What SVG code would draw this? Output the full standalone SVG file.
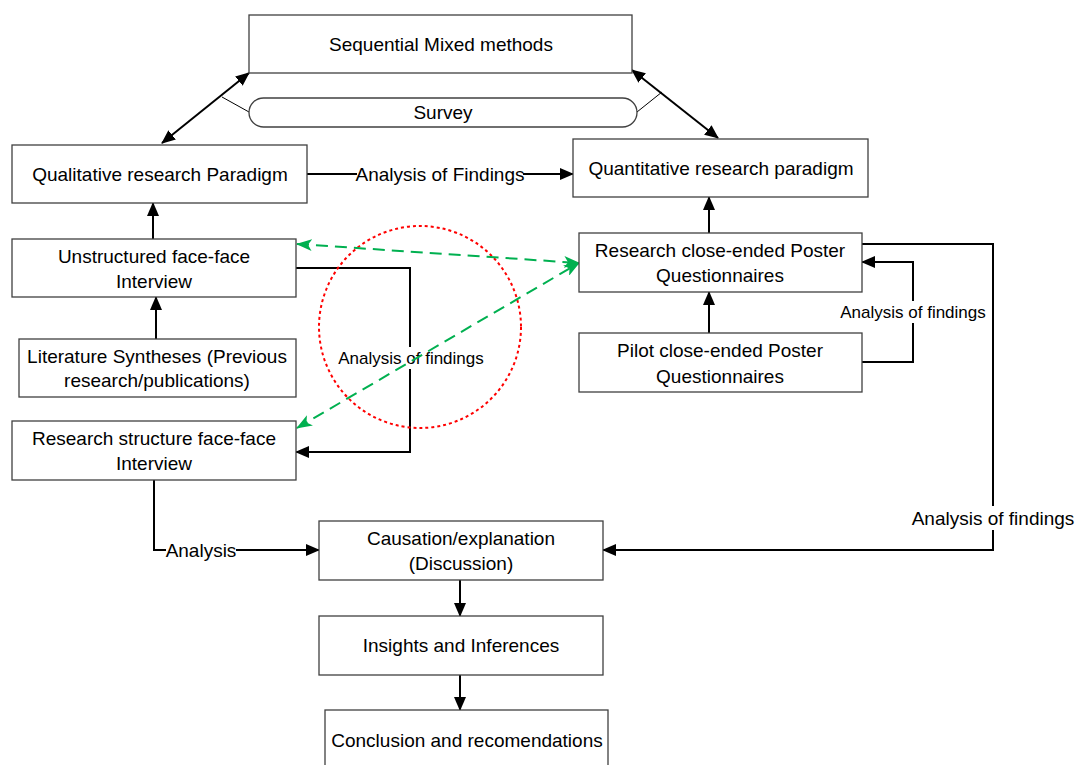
<svg xmlns="http://www.w3.org/2000/svg" width="1076" height="765" viewBox="0 0 1076 765">
<style>
.box{fill:#fff;stroke:#404040;stroke-width:1.3}
.t{font-family:"Liberation Sans",Arial,sans-serif;font-size:19px;fill:#000;text-anchor:middle;dominant-baseline:central}
.s{font-size:17px}
.c{fill:none;stroke:#000;stroke-width:2}
.thin{fill:none;stroke:#000;stroke-width:1}
.g{fill:none;stroke:#00b050;stroke-width:2;stroke-dasharray:12,7}
.lbl{fill:#fff}
</style>
<defs>
<marker id="ah" markerUnits="userSpaceOnUse" markerWidth="14" markerHeight="12" refX="13" refY="6" orient="auto-start-reverse">
<path d="M0,0 L14,6 L0,12 z" fill="#000"/>
</marker>
<marker id="gh" markerUnits="userSpaceOnUse" markerWidth="16" markerHeight="12" refX="15" refY="6" orient="auto-start-reverse">
<path d="M0,0 L16,6 L0,12 L4,6 z" fill="#00b050"/>
</marker>
</defs>
<rect width="1076" height="765" fill="#fff"/>

<g id="connectors">
<line class="c" x1="162" y1="143" x2="249" y2="73" marker-start="url(#ah)" marker-end="url(#ah)"/>
<line class="c" x1="632" y1="70" x2="718" y2="138" marker-start="url(#ah)" marker-end="url(#ah)"/>
<line class="thin" x1="222" y1="97" x2="249" y2="112"/>
<line class="thin" x1="637" y1="112" x2="662" y2="92"/>
<line class="c" x1="307" y1="174" x2="573" y2="174" marker-end="url(#ah)"/>
<rect class="lbl" x="357" y="162" width="166" height="24"/>
<text class="t" x="440" y="174">Analysis of Findings</text>
<line class="c" x1="153" y1="239" x2="153" y2="203" marker-end="url(#ah)"/>
<line class="c" x1="156" y1="339" x2="156" y2="297" marker-end="url(#ah)"/>
<polyline class="c" points="296,268 410,268 410,452 296,452" marker-end="url(#ah)"/>
<line class="c" x1="709" y1="233" x2="709" y2="197" marker-end="url(#ah)"/>
<line class="c" x1="709" y1="333" x2="709" y2="292" marker-end="url(#ah)"/>
<polyline class="c" points="862,362 913,362 913,262 862,262" marker-end="url(#ah)"/>
<rect class="lbl" x="840" y="301" width="147" height="22"/>
<text class="t s" x="913" y="312">Analysis of findings</text>
<polyline class="c" points="862,244 993,244 993,550 603,550" marker-end="url(#ah)"/>
<rect class="lbl" x="912" y="506" width="163" height="24"/>
<text class="t" x="993" y="518">Analysis of findings</text>
<polyline class="c" points="154,480 154,550 319,550" marker-end="url(#ah)"/>
<rect class="lbl" x="166" y="538" width="70" height="24"/>
<text class="t" x="201" y="550">Analysis</text>
<line class="c" x1="460" y1="580" x2="460" y2="616" marker-end="url(#ah)"/>
<line class="c" x1="460" y1="675" x2="460" y2="710" marker-end="url(#ah)"/>
<rect class="lbl" x="337" y="347" width="148" height="22"/>
<text class="t s" x="411" y="358">Analysis of findings</text>
<circle cx="420" cy="327" r="101" fill="none" stroke="#ff0000" stroke-width="2" stroke-dasharray="3,3"/>
<line class="g" x1="297" y1="244" x2="579" y2="263" marker-start="url(#gh)" marker-end="url(#gh)"/>
<line class="g" x1="297" y1="428" x2="579" y2="263" marker-start="url(#gh)" marker-end="url(#gh)"/>
</g>

<g id="n-seq"><rect class="box" x="249" y="15" width="383" height="58"/><text class="t" x="441" y="44">Sequential Mixed methods</text></g>
<g id="n-survey"><rect class="box" x="249" y="98" width="388" height="29" rx="14.5"/><text class="t" x="443" y="112">Survey</text></g>
<g id="n-qual"><rect class="box" x="12" y="145" width="295" height="58"/><text class="t" x="160" y="174">Qualitative research Paradigm</text></g>
<g id="n-quant"><rect class="box" x="573" y="139" width="295" height="58"/><text class="t" x="721" y="168">Quantitative research paradigm</text></g>
<g id="n-unstr"><rect class="box" x="12" y="239" width="284" height="58"/><text class="t" x="154" y="256">Unstructured face-face</text><text class="t" x="154" y="281">Interview</text></g>
<g id="n-lit"><rect class="box" x="19" y="339" width="277" height="58"/><text class="t" x="157" y="356">Literature Syntheses (Previous</text><text class="t" x="157" y="380">research/publications)</text></g>
<g id="n-struct"><rect class="box" x="12" y="421" width="284" height="59"/><text class="t" x="154" y="438">Research structure face-face</text><text class="t" x="154" y="463">Interview</text></g>
<g id="n-rcq"><rect class="box" x="579" y="233" width="283" height="59"/><text class="t" x="720" y="250">Research close-ended Poster</text><text class="t" x="720" y="275">Questionnaires</text></g>
<g id="n-pcq"><rect class="box" x="579" y="333" width="283" height="59"/><text class="t" x="720" y="350">Pilot close-ended Poster</text><text class="t" x="720" y="376">Questionnaires</text></g>
<g id="n-cause"><rect class="box" x="319" y="521" width="284" height="59"/><text class="t" x="461" y="538">Causation/explanation</text><text class="t" x="461" y="563">(Discussion)</text></g>
<g id="n-ins"><rect class="box" x="319" y="616" width="284" height="59"/><text class="t" x="461" y="645">Insights and Inferences</text></g>
<g id="n-conc"><rect class="box" x="325" y="710" width="283" height="70"/><text class="t" x="467" y="740">Conclusion and recomendations</text></g>
</svg>
